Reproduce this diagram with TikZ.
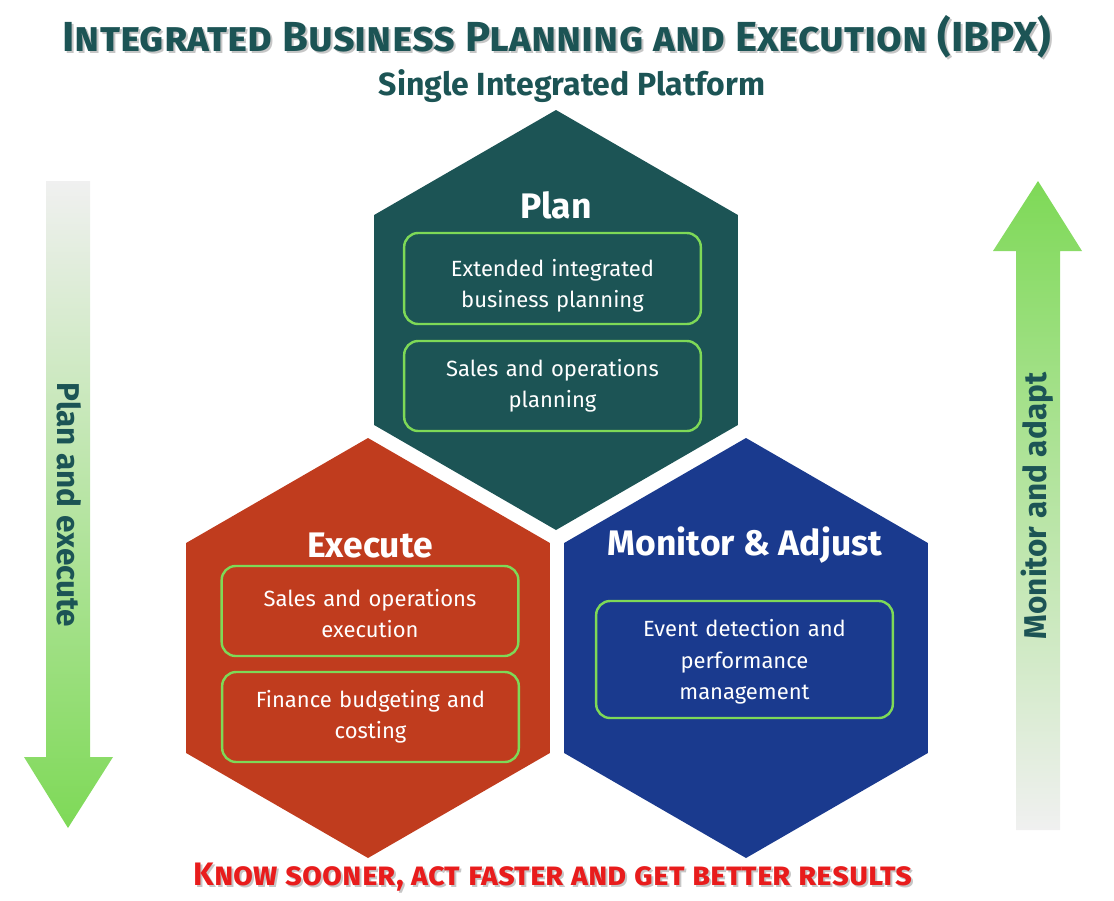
\documentclass[tikz,border=0pt]{standalone}
\usepackage{fontspec}
\setmainfont{Fira Sans}
\usetikzlibrary{calc,positioning}
\definecolor{plancol}{HTML}{1C5455}
\definecolor{execcol}{HTML}{C03C1E}
\definecolor{moncol}{HTML}{1A3A8E}
\definecolor{boxgreen}{HTML}{7ED957}
\definecolor{arrgrey}{HTML}{F0F0F0}
\definecolor{resred}{HTML}{E81C1C}

\begin{document}
\begin{tikzpicture}[x=1pt, y=-1pt,
task/.style = {draw=boxgreen, line width=2.4pt, rounded corners=14pt, minimum width=295pt, text width=290pt, align=center, text=white, font=\fontsize{22}{31.5}\selectfont},
hextitle/.style = {text=white, font=\bfseries\fontsize{35.5}{40}\selectfont},
sidetext/.style = {text=plancol, font=\bfseries\fontsize{31.5}{36}\selectfont}]
\useasboundingbox (0,0) rectangle (1114,900);
% titles
\node[text=gray!45, font=\bfseries\scshape\fontsize{42}{48}\selectfont] at (559,39) {Integrated Business Planning and Execution (IBPX)};
\node[text=plancol, font=\bfseries\scshape\fontsize{42}{48}\selectfont] (title) at (557,37) {Integrated Business Planning and Execution (IBPX)};
\node[text=plancol, font=\bfseries\fontsize{32}{38}\selectfont] (sub) at (572,86) {Single Integrated Platform};
% side arrows
\shade[top color=arrgrey, bottom color=boxgreen] (46,181) -- (90,181) -- (90,757) -- (113,757) -- (68,828) -- (24,757) -- (46,757) -- cycle;
\shade[top color=boxgreen, bottom color=arrgrey] (1038,181) -- (1082,251) -- (1060,251) -- (1060,830) -- (1016,830) -- (1016,251) -- (993,251) -- cycle;
\node[sidetext, rotate=-90] (pe) at (69,505) {Plan and execute};
\node[sidetext, rotate=90] (ma) at (1037,506) {Monitor and adapt};
% hexagons
\fill[plancol, shift={(556,320)}] (90:210) -- (30:210) -- (-30:210) -- (-90:210) -- (-150:210) -- (150:210) -- cycle;
\fill[execcol, shift={(368,648)}] (90:210) -- (30:210) -- (-30:210) -- (-90:210) -- (-150:210) -- (150:210) -- cycle;
\fill[moncol, shift={(746,648)}] (90:210) -- (30:210) -- (-30:210) -- (-90:210) -- (-150:210) -- (150:210) -- cycle;
\node[hextitle] (plan) at (556,205) {Plan};
\node[hextitle] (exec) at (370,545) {Execute};
\node[hextitle] (mon) at (745,545) {Monitor \& Adjust};
% boxes
\node[task, minimum height=91pt] (eibp) at (552.5,278.5) {\rule{0pt}{32pt}Extended integrated\\business planning};
\node[task, minimum height=90pt] (sop) at (552.5,386) {Sales and operations\\planning};
\node[task, minimum height=90pt] (soe) at (370,611) {\rule{0pt}{22pt}Sales and operations\\execution};
\node[task, minimum height=90pt] (fin) at (370.5,717) {Finance budgeting and\\costing};
\node[task, minimum height=117pt] (evt) at (744.5,659.5) {\rule{0pt}{22pt}Event detection and\\performance\\management};
% bottom line
\node[text=gray!45, font=\bfseries\scshape\fontsize{32.5}{38}\selectfont] at (555,879) {Know sooner, act faster and get better results};
\node[text=resred, font=\bfseries\scshape\fontsize{32.5}{38}\selectfont] (res) at (553,877) {Know sooner, act faster and get better results};
\end{tikzpicture}
\end{document}
